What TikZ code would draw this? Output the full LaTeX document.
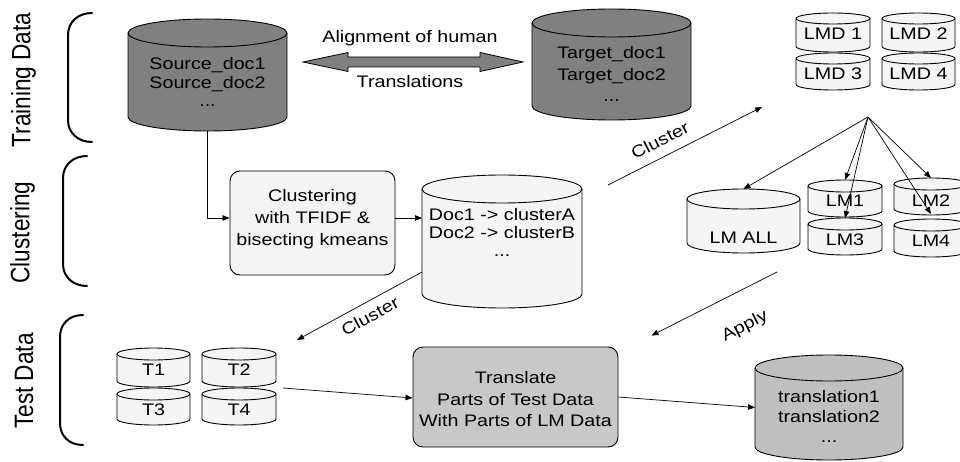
\documentclass[tikz,border=0pt]{standalone}
\usepackage{fontspec}
\setmainfont{Liberation Sans}
\newfontfamily\widesans[FakeStretch=1.18]{Liberation Sans}
\newfontfamily\tallsans[FakeStretch=0.85]{Liberation Sans}
\usetikzlibrary{arrows.meta}

\definecolor{darkdrum}{HTML}{808080}
\definecolor{lightdrum}{HTML}{F5F5F5}
\definecolor{middrum}{HTML}{C0C0C0}
\definecolor{boxlight}{HTML}{F4F4F4}
\definecolor{boxmid}{HTML}{C8C8C8}

\tikzset{
  drumbody/.style={draw=black, line width=0.9pt},
  drumline/.style={draw=black, line width=0.9pt},
  drumshape/.style={inner sep=0pt, outer sep=0pt},
  drumtext/.style={inner sep=0pt, align=center, font=\widesans\fontsize{16.7}{20}\selectfont},
  drumfill/.style={/tikz/drumbody/.append style={fill=#1}},
  txtskip/.style={/tikz/drumtext/.append style={font=\widesans\fontsize{16.7}{#1}\selectfont}},
  procbox/.style={draw=black, line width=0.9pt, rounded corners=10pt, inner sep=0pt},
  boxtext/.style={inner sep=0pt, align=center, font=\widesans\fontsize{16.7}{21.6}\selectfont},
  conn/.style={draw=black, line width=0.7pt, -{Triangle[length=7pt,width=5.5pt]}},
  lbl/.style={inner sep=0pt, font=\widesans\fontsize{16.7}{20}\selectfont},
  sidelbl/.style={inner sep=0pt, rotate=90, font=\tallsans\fontsize{26.6}{28}\selectfont},
  brace/.style={draw=black, line width=2pt, line cap=round},
  blockarrow/.style={draw=black, line width=0.8pt, fill=darkdrum, line join=miter},
}

% \drum{name}{cx}{cy}{width}{height}{ry}{options}{text y}{text}
% positions are measured from the top edge of the picture
\newcommand\drum[9]{%
  \begin{scope}[#7]
    \path[drumbody] (#2-#4/2, 461-#3+#5/2-#6) -- (#2-#4/2, 461-#3-#5/2+#6)
      arc[start angle=180, end angle=360, x radius=#4/2, y radius=#6]
      -- (#2+#4/2, 461-#3+#5/2-#6)
      arc[start angle=0, end angle=180, x radius=#4/2, y radius=#6] -- cycle;
    \draw[drumline] (#2-#4/2, 461-#3+#5/2-#6)
      arc[start angle=180, end angle=360, x radius=#4/2, y radius=#6];
    \node[drumshape, minimum width=#4, minimum height=#5] (#1) at (#2, 461-#3) {};
    \node[drumtext] (#1-t) at (#2, 461-#8) {#9};
  \end{scope}%
}

\begin{document}
\begin{tikzpicture}[x=1pt, y=1pt, line join=round]
\useasboundingbox (0,0) rectangle (960,461);
\clip (0,0) rectangle (960,461);

% section brackets and their titles
\draw[brace] (92,461-13) .. controls (78,461-13) and (68,461-22) .. (68,461-35)
  -- (68,461-120) .. controls (68,461-133) and (78,461-142) .. (92,461-142);
\draw[brace] (87,461-156) .. controls (73,461-156) and (63,461-165) .. (63,461-178)
  -- (63,461-264) .. controls (63,461-277) and (73,461-286) .. (87,461-286);
\draw[brace] (83,461-315) .. controls (69,461-315) and (60,461-324) .. (60,461-337)
  -- (60,461-423) .. controls (60,461-436) and (69,461-445) .. (83,461-445);
\node[sidelbl] (trainlbl) at (23.5,461-80) {Training Data};
\node[sidelbl] (clustlbl) at (22.5,461-232.5) {Clustering};
\node[sidelbl] (testlbl) at (24,461-381) {Test Data};

% training documents
\drum{src}{207.5}{75}{159}{112}{14}{drumfill=darkdrum, txtskip=18.3}{82.2}{Source\_doc1\\Source\_doc2\\...}
\drum{tgt}{611.5}{64.5}{159}{111}{14}{drumfill=darkdrum, txtskip=21.7}{74.1}{Target\_doc1\\Target\_doc2\\...}

% alignment block arrow
\coordinate (aL) at (303,461-62);
\coordinate (aR) at (523,461-62);
\draw[blockarrow] (aL) -- ([shift={(45,9.5)}]aL) -- ([shift={(45,5)}]aL)
  -- ([shift={(-43,5)}]aR) -- ([shift={(-43,9.5)}]aR) -- (aR)
  -- ([shift={(-43,-9.5)}]aR) -- ([shift={(-43,-5)}]aR)
  -- ([shift={(45,-5)}]aL) -- ([shift={(45,-9.5)}]aL) -- cycle;
\node[lbl] (alignlbl) at (410,461-37.7) {Alignment of human};
\node[lbl] (translbl) at (410,461-82) {Translations};

% clustering step
\node[procbox, fill=boxlight, minimum width=165, minimum height=104] (clu) at (312.5,461-223) {};
\node[boxtext] (clu-t) at (312.5,461-219.2) {Clustering\\with TFIDF \&\\bisecting kmeans};
\drum{doc}{502}{241.5}{160}{133}{14}{drumfill=lightdrum, txtskip=18}{232.9}{Doc1 -> clusterA\\Doc2 -> clusterB\\...}

% language model data
\drum{lmd1}{833}{32.5}{74}{39}{5.5}{drumfill=lightdrum}{34}{LMD 1}
\drum{lmd2}{918.5}{32.5}{73}{39}{5.5}{drumfill=lightdrum}{34}{LMD 2}
\drum{lmd3}{833}{71.5}{74}{37}{5.5}{drumfill=lightdrum}{74}{LMD 3}
\drum{lmd4}{918.5}{71.5}{73}{37}{5.5}{drumfill=lightdrum}{74}{LMD 4}

% language models
\drum{lmall}{743.5}{221}{113}{64}{10}{drumfill=lightdrum}{237.5}{LM ALL}
\drum{lm1}{845}{198.5}{74}{37}{6}{drumfill=lightdrum}{200.5}{LM1}
\drum{lm2}{931}{196.5}{74}{37}{6}{drumfill=lightdrum}{201}{LM2}
\drum{lm3}{845}{236.5}{74}{37}{6}{drumfill=lightdrum}{240}{LM3}
\drum{lm4}{931}{238}{74}{38}{6}{drumfill=lightdrum}{241}{LM4}

% test data
\drum{t1}{153.5}{367.5}{73}{39}{6}{drumfill=lightdrum}{370}{T1}
\drum{t2}{239}{367.5}{74}{39}{6}{drumfill=lightdrum}{370}{T2}
\drum{t3}{153.5}{406.5}{73}{37}{6}{drumfill=lightdrum}{410}{T3}
\drum{t4}{239}{406.5}{74}{37}{6}{drumfill=lightdrum}{410}{T4}

% translation step and output
\node[procbox, fill=boxmid, minimum width=205, minimum height=100] (trans) at (515.5,461-397) {};
\node[boxtext] (trans-t) at (515.5,461-399.2) {Translate\\Parts of Test Data\\With Parts of LM Data};
\drum{out}{829}{407.5}{148}{105}{13}{drumfill=middrum, txtskip=20}{416.9}{translation1\\translation2\\...}

% connectors
\draw[conn] (src.south) |- ([yshift=5]clu.west);
\draw[conn] ([yshift=5]clu.east) -- ([yshift=5]clu.east -| doc.west);
\draw[conn] ([shift={(26,-10)}]doc.north east) -- ([shift={(-34,-17)}]lmd3.south west);
\node[lbl, rotate=27] (cl1) at (660,461-140) {Cluster};
\draw[conn] ([yshift=36]doc.south west) -- ([shift={(21,8)}]t2.north east);
\node[lbl, rotate=28.5] (cl2) at (370,461-316) {Cluster};

\coordinate (fan) at ([shift={(-2,-27)}]lmd3.south east);
\draw[conn] (fan) -- (lmall.north);
\draw[conn] (fan) -- (lm1.north);
\draw[conn] (fan) -- (lm3.north);
\draw[conn] (fan) -- (lm2.north);
\draw[conn] (fan) -- ([yshift=5]lm4.north);

\draw[conn] ([shift={(33.5,-19)}]lmall.south) -- ([shift={(33,11)}]trans.north east);
\node[lbl, rotate=27] (applylbl) at (745,461-326) {Apply};

\draw[conn] ([shift={(7,-1)}]t2.south east) -- ([yshift=-1]trans.west);
\draw[conn] (trans.east) -- (out.west);
\end{tikzpicture}
\end{document}
